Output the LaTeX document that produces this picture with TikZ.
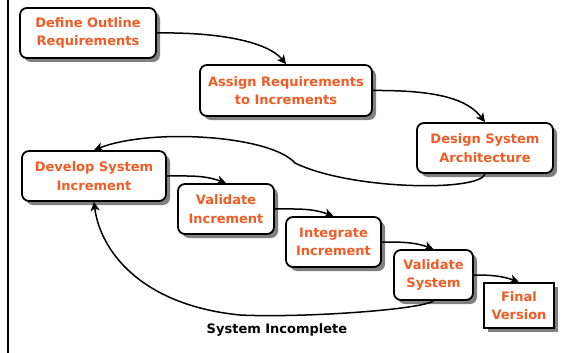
\documentclass[tikz,border=0pt]{standalone}
\usepackage{fontspec}
\setmainfont{DejaVu Sans}
\usetikzlibrary{shadows,arrows.meta}
\definecolor{txtorange}{RGB}{240,92,38}
\definecolor{shadowgray}{RGB}{128,128,128}
\tikzset{
  stage/.style={draw=black, line width=1.8pt, fill=white, rounded corners=7pt,
    align=center, text=txtorange, font=\bfseries\fontsize{13}{18.5}\selectfont,
    inner sep=0pt,
    drop shadow={shadow xshift=4pt, shadow yshift=-4pt, fill=shadowgray, opacity=1}},
  finalbox/.style={stage, rounded corners=0pt},
  flow/.style={line width=1.5pt, -{Stealth[length=9pt,width=9pt,inset=2.5pt]}},
}
\begin{document}
\begin{tikzpicture}[x=1pt,y=-1pt]
\useasboundingbox (0,0) rectangle (565,353);
\draw[line width=1.6pt] (8,0) -- (8,353);
\node[stage, minimum width=136pt, minimum height=50pt] (def) at (88,33) {Define Outline\\Requirements};
\node[stage, minimum width=172pt, minimum height=51pt] (asg) at (286,90.5) {Assign Requirements\\to Increments};
\node[stage, minimum width=136pt, minimum height=50pt] (des) at (485,148) {Design System\\Architecture};
\node[stage, minimum width=144pt, minimum height=50pt] (dev) at (94,176) {Develop System\\Increment};
\node[stage, minimum width=96pt, minimum height=50pt] (vi) at (226,209) {Validate\\Increment};
\node[stage, minimum width=95pt, minimum height=50pt] (ii) at (333.5,242) {Integrate\\Increment};
\node[stage, minimum width=79pt, minimum height=50pt] (vs) at (433.5,275) {Validate\\System};
\node[finalbox, minimum width=70pt, minimum height=45pt] (fv) at (519,305.5) {Final\\Version};
\node[font=\bfseries\fontsize{13}{15}\selectfont] (inc) at (277,330) {System Incomplete};
\draw[flow] (def.east) .. controls (220,32) and (268,42) .. (asg.north);
\draw[flow] (asg.east) .. controls (440,90) and (468,100) .. (des.north);
\draw[flow] (des.south) .. controls (480,192) and (350,190) .. (295,163) .. controls (270,135) and (150,128) .. (dev.north);
\draw[flow] (dev.east) to[out=0,in=160] (vi.north);
\draw[flow] (vi.east) to[out=0,in=160] (ii.north);
\draw[flow] (ii.east) to[out=0,in=160] (vs.north);
\draw[flow] (vs.east) to[out=0,in=160] (fv.north);
\draw[flow] (vs.south) .. controls (420,310) and (300,318) .. (240,315) .. controls (140,305) and (100,250) .. (dev.south);
\end{tikzpicture}
\end{document}
